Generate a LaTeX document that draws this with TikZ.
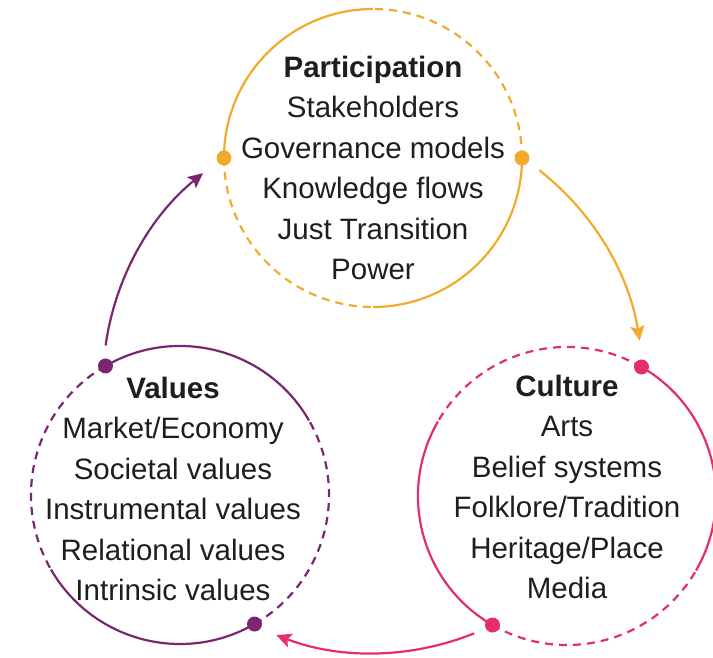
\documentclass[tikz,border=0pt]{standalone}
\usepackage{fontspec}
\setmainfont{Liberation Sans}
\usetikzlibrary{arrows.meta}
\definecolor{orng}{RGB}{242,170,45}
\definecolor{purp}{RGB}{122,38,112}
\definecolor{pnk}{RGB}{228,45,105}
\definecolor{ink}{RGB}{30,30,30}
\tikzset{
  ring/.style={line width=2.2pt},
  ringdash/.style={line width=2.2pt, dash pattern=on 8pt off 6pt},
  flow/.style={line width=2.2pt, -{Stealth[length=15pt,width=14pt,inset=3pt]}},
  txt/.style={align=center, text=ink, font=\fontsize{29.5}{40.5}\selectfont}
}
\begin{document}
\begin{tikzpicture}[x=1pt, y=1pt]
  \useasboundingbox (0,0) rectangle (713,658);
  \coordinate (mid) at (373,275);
  \coordinate (cP) at (373,500);
  \coordinate (cV) at (180,163);
  \coordinate (cC) at (567,162);
  % rings: solid and dashed quarters, a dot where they change
  \foreach \c/\t/\col in {cP/0/orng, cV/120/purp, cC/60/pnk}{
    \draw[ring,\col] (\c) ++(\t-90:149pt) arc[start angle=\t-90, delta angle=90, radius=149pt];
    \draw[ringdash,\col] (\c) ++(\t:149pt) arc[start angle=\t, delta angle=90, radius=149pt];
    \draw[ring,\col] (\c) ++(\t+90:149pt) arc[start angle=\t+90, delta angle=90, radius=149pt];
    \draw[ringdash,\col] (\c) ++(\t+180:149pt) arc[start angle=\t+180, delta angle=90, radius=149pt];
    \fill[\col] (\c) ++(\t:149pt) circle(7.5pt);
    \fill[\col] (\c) ++(\t+180:149pt) circle(7.5pt);
  }
  \node[txt] (part) at (373,490) {\textbf{Participation}\\Stakeholders\\Governance models\\Knowledge flows\\Just Transition\\Power};
  \node[txt] (val) at (173,169) {\textbf{Values}\\Market/Economy\\Societal values\\Instrumental values\\Relational values\\Intrinsic values};
  \node[txt] (cult) at (567,171) {\textbf{Culture}\\Arts\\Belief systems\\Folklore/Tradition\\Heritage/Place\\Media};
  % flows between the rings
  \coordinate (pOut) at ([shift={(52:270pt)}]mid);
  \coordinate (cOut) at ([shift={(-68:270pt)}]mid);
  \coordinate (vOut) at ([shift={(172:270pt)}]mid);
  \draw[flow,orng] (pOut) arc[start angle=52, end angle=9, radius=270pt];
  \draw[flow,pnk] (cOut) arc[start angle=-68, end angle=-111, radius=270pt];
  \draw[flow,purp] (vOut) arc[start angle=172, end angle=129, radius=270pt];
\end{tikzpicture}
\end{document}
